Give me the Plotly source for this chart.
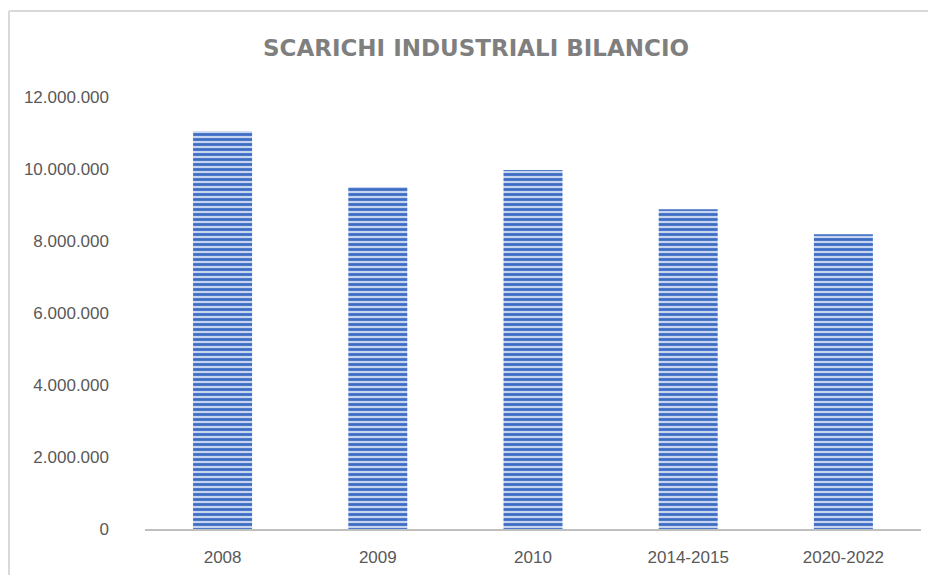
import plotly.graph_objects as go

categories = ["2008", "2009", "2010", "2014-2015", "2020-2022"]
values = [11050000, 9500000, 9970000, 8880000, 8190000]
y_ticks = [0, 2000000, 4000000, 6000000, 8000000, 10000000, 12000000]

# the page body adds an 8px offset, so figure coords = screen coords - 8
W, H = 936, 575
L, R, T, B = 137, 23, 89, 54
pw, ph = W - L - R, H - T - B

def px_x(x):
    return (x - L) / pw

def px_y(y):
    return (H - B - y) / ph

fig = go.Figure()
fig.add_trace(go.Bar(
    x=categories, y=values, width=0.38,
    marker=dict(
        color="#c6d4ef",
        line=dict(width=0),
        pattern=dict(shape="-", fgcolor="#3d6cc4", fgopacity=1, bgcolor="#c6d4ef",
                     size=5, solidity=0.55),
    ),
    hoverinfo="x+y",
))

fig.update_layout(
    width=W, height=H,
    margin=dict(l=L, r=R, t=T, b=B),
    paper_bgcolor="white", plot_bgcolor="white",
    separators=",.",
    showlegend=False,
    title=dict(text="<b>SCARICHI INDUSTRIALI BILANCIO</b>", x=468 / W, xanchor="center",
               y=1 - 40 / H, yanchor="middle",
               font=dict(family="DejaVu Sans", size=23, color="#7f7f7f")),
    font=dict(family="Liberation Sans", size=17, color="#595959"),
    xaxis=dict(showgrid=False, showline=True, linecolor="#bfbfbf", linewidth=2,
               ticks="", tickfont=dict(size=17, color="#595959"), ticklabelstandoff=12),
    yaxis=dict(range=[0, 12000000], tickvals=y_ticks, tickformat=",d", showgrid=False,
               zeroline=False, showline=False, ticks="", ticklabelstandoff=35,
               tickfont=dict(size=17, color="#595959")),
)

fig.add_shape(type="line", xref="paper", yref="paper", x0=px_x(1), x1=px_x(1),
              y0=px_y(3), y1=px_y(600), line=dict(color="#d9d9d9", width=2))
fig.add_shape(type="line", xref="paper", yref="paper", x0=px_x(1), x1=px_x(960),
              y0=px_y(3), y1=px_y(3), line=dict(color="#d9d9d9", width=2))

fig.write_html("out.html")
